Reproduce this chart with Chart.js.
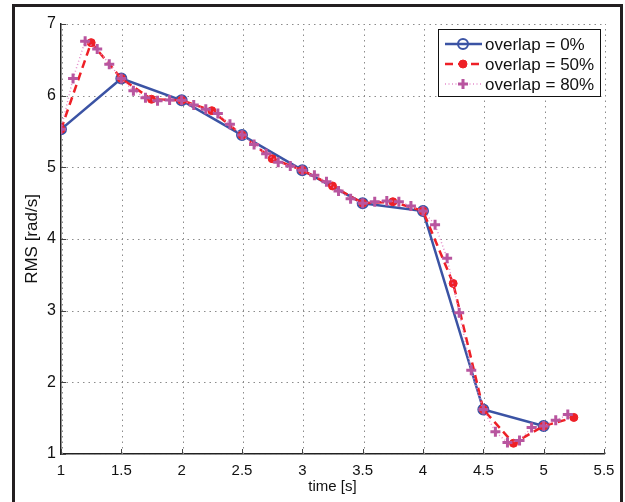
<!DOCTYPE html>
<html>
<head>
<meta charset="utf-8">
<script src="https://cdn.jsdelivr.net/npm/chart.js@4/dist/chart.umd.min.js"></script>
<style>
  html, body { margin: 0; padding: 0; background: #fff; }
  #wrap { width: 625px; height: 502px; }
</style>
</head>
<body>
<div id="wrap"><canvas id="rms-chart" width="625" height="502"></canvas></div>
<script>
// Data
const time0 = [1, 1.5, 2, 2.5, 3, 3.5, 4, 4.5, 5];
const rms0 = [5.53, 6.24, 5.935, 5.45, 4.96, 4.50, 4.39, 1.62, 1.39];

const time50 = [1, 1.25, 1.5, 1.75, 2, 2.25, 2.5, 2.75, 3, 3.25, 3.5, 3.75, 4, 4.25, 4.5, 4.75, 5, 5.25];
const rms50 = [5.53, 6.74, 6.24, 5.95, 5.935, 5.79, 5.45, 5.12, 4.96, 4.74, 4.50, 4.52, 4.39, 3.38, 1.62, 1.15, 1.39, 1.51];

const time80 = [1, 1.1, 1.2, 1.3, 1.4, 1.5, 1.6, 1.7, 1.8, 1.9, 2, 2.1, 2.2, 2.3, 2.4, 2.5,
  2.6, 2.7, 2.8, 2.9, 3, 3.1, 3.2, 3.3, 3.4, 3.5, 3.6, 3.7, 3.8, 3.9, 4, 4.1, 4.2, 4.3,
  4.4, 4.5, 4.6, 4.7, 4.8, 4.9, 5, 5.1, 5.2];
const rms80 = [5.53, 6.24, 6.76, 6.65, 6.44, 6.24, 6.07, 5.97, 5.93, 5.94, 5.935, 5.87, 5.81, 5.75, 5.60, 5.45,
  5.32, 5.19, 5.07, 5.02, 4.96, 4.89, 4.80, 4.67, 4.56, 4.50, 4.52, 4.53, 4.52, 4.46, 4.39, 4.20, 3.73, 2.97,
  2.17, 1.62, 1.31, 1.16, 1.19, 1.37, 1.39, 1.47, 1.55];

const seriesLabels = ['overlap = 0%', 'overlap = 50%', 'overlap = 80%'];
const xTicks = [1, 1.5, 2, 2.5, 3, 3.5, 4, 4.5, 5, 5.5];
const yTicks = [1, 2, 3, 4, 5, 6, 7];

const FONT = '"Liberation Sans", Arial, Helvetica, sans-serif';

function toPoints(xs, ys) {
    return xs.map((x, i) => ({ x: x, y: ys[i] }));
}

// Dotted grid, inward ticks, the outer frame and a MATLAB style legend
const figurePlugin = {
    id: 'figure',
    beforeDraw(chart) {
        const ctx = chart.ctx;
        ctx.save();
        ctx.fillStyle = '#fff';
        ctx.fillRect(0, 0, chart.width, chart.height);
        ctx.restore();
    },
    beforeDatasetsDraw(chart) {
        const ctx = chart.ctx;
        const area = chart.chartArea;
        const xs = chart.scales.x;
        const ys = chart.scales.y;
        ctx.save();
        ctx.strokeStyle = '#8c8c8c';
        ctx.lineWidth = 1;
        ctx.setLineDash([1.5, 4]);
        ctx.beginPath();
        xTicks.forEach(v => {
            const px = Math.round(xs.getPixelForValue(v)) + 1.5;
            ctx.moveTo(px, area.bottom);
            ctx.lineTo(px, area.top);
        });
        yTicks.forEach(v => {
            const py = Math.round(ys.getPixelForValue(v)) + 0.5;
            ctx.moveTo(area.left, py);
            ctx.lineTo(area.right + 1, py);
        });
        ctx.stroke();
        ctx.restore();
    },
    afterDraw(chart) {
        const ctx = chart.ctx;
        const area = chart.chartArea;
        const xs = chart.scales.x;
        const ys = chart.scales.y;

        ctx.save();
        ctx.strokeStyle = '#444';
        ctx.lineWidth = 1;
        ctx.beginPath();
        xTicks.forEach(v => {
            const px = Math.round(xs.getPixelForValue(v)) + 0.5;
            ctx.moveTo(px, area.bottom);
            ctx.lineTo(px, area.bottom - 5);
        });
        yTicks.forEach(v => {
            const py = Math.round(ys.getPixelForValue(v)) + 0.5;
            ctx.moveTo(area.left, py);
            ctx.lineTo(area.left + 5, py);
        });
        ctx.stroke();

        // outer frame
        ctx.strokeStyle = '#231f20';
        ctx.lineWidth = 3;
        ctx.beginPath();
        ctx.moveTo(13.5, 520);
        ctx.lineTo(13.5, 5.5);
        ctx.lineTo(621.5, 5.5);
        ctx.lineTo(621.5, 520);
        ctx.stroke();

        // legend
        const lx = 438, ly = 29, lw = 162, lh = 67;
        ctx.fillStyle = '#fff';
        ctx.fillRect(lx, ly, lw, lh);
        ctx.strokeStyle = '#111';
        ctx.lineWidth = 1;
        ctx.strokeRect(lx + 0.5, ly + 0.5, lw, lh);

        chart.data.datasets.forEach((ds, i) => {
            const cy = 44 + i * 20;
            ctx.save();
            ctx.strokeStyle = ds.borderColor;
            ctx.lineWidth = ds.borderWidth;
            ctx.setLineDash(ds.borderDash || []);
            ctx.beginPath();
            ctx.moveTo(445, cy);
            ctx.lineTo(482, cy);
            ctx.stroke();
            ctx.setLineDash([]);
            const mx = 463;
            ctx.strokeStyle = ds.pointBorderColor;
            ctx.fillStyle = ds.pointBackgroundColor;
            ctx.lineWidth = ds.pointBorderWidth;
            if (ds.pointStyle === 'circle') {
                ctx.beginPath();
                ctx.arc(mx, cy, ds.pointRadius, 0, Math.PI * 2);
                ctx.fill();
                ctx.stroke();
            } else {
                const r = ds.pointRadius;
                ctx.beginPath();
                ctx.moveTo(mx - r, cy);
                ctx.lineTo(mx + r, cy);
                ctx.moveTo(mx, cy - r);
                ctx.lineTo(mx, cy + r);
                ctx.stroke();
            }
            ctx.restore();
            ctx.fillStyle = '#111';
            ctx.font = '17px ' + FONT;
            ctx.textBaseline = 'middle';
            ctx.textAlign = 'left';
            ctx.fillText(ds.label, 485, cy + 1);
        });
        ctx.restore();
    }
};

const ctx = document.getElementById('rms-chart').getContext('2d');
const rmsChart = new Chart(ctx, {
    type: 'line',
    data: {
        datasets: [
            {
                label: seriesLabels[0],
                data: toPoints(time0, rms0),
                borderColor: '#3b53a4',
                borderWidth: 2.5,
                pointStyle: 'circle',
                pointRadius: 5,
                pointBorderWidth: 2,
                pointBorderColor: '#3b53a4',
                pointBackgroundColor: 'rgba(255,255,255,0)',
                order: 3
            },
            {
                label: seriesLabels[1],
                data: toPoints(time50, rms50),
                borderColor: '#ee2027',
                borderWidth: 2.5,
                borderDash: [8, 5],
                pointStyle: 'circle',
                pointRadius: 4,
                pointBorderWidth: 1,
                pointBorderColor: '#ee2027',
                pointBackgroundColor: '#ee2027',
                order: 2
            },
            {
                label: seriesLabels[2],
                data: toPoints(time80, rms80),
                borderColor: '#e58ccb',
                borderWidth: 1.5,
                borderDash: [1, 2.5],
                pointStyle: 'cross',
                pointRadius: 5,
                pointBorderWidth: 3,
                pointBorderColor: '#b8559f',
                pointBackgroundColor: '#b8559f',
                order: 1
            }
        ]
    },
    options: {
        responsive: false,
        animation: false,
        layout: { padding: { left: 22, top: 24, right: 21, bottom: 0 } },
        plugins: {
            legend: { display: false },
            tooltip: { enabled: false }
        },
        elements: { line: { tension: 0, fill: false } },
        scales: {
            x: {
                type: 'linear',
                min: 1,
                max: 5.5,
                afterFit: scale => { scale.height = 48; },
                afterBuildTicks: scale => { scale.ticks = xTicks.map(v => ({ value: v })); },
                ticks: {
                    callback: v => String(v),
                    font: { family: FONT, size: 15 },
                    color: '#111',
                    padding: 8,
                    maxRotation: 0
                },
                grid: { color: 'rgba(0,0,0,0)', drawTicks: false },
                border: { display: true, color: '#222', width: 1.5 },
                title: {
                    display: true,
                    text: 'time [s]',
                    font: { family: FONT, size: 15 },
                    color: '#111',
                    padding: { top: 0, bottom: 6 }
                }
            },
            y: {
                min: 1,
                max: 7,
                afterFit: scale => { scale.width = 39; },
                afterBuildTicks: scale => { scale.ticks = yTicks.map(v => ({ value: v })); },
                ticks: {
                    callback: v => String(v),
                    font: { family: FONT, size: 16 },
                    color: '#111',
                    padding: 5
                },
                grid: { color: 'rgba(0,0,0,0)', drawTicks: false },
                border: { display: true, color: '#222', width: 1.5 },
                title: {
                    display: true,
                    text: 'RMS [rad/s]',
                    font: { family: FONT, size: 17 },
                    color: '#111',
                    padding: { top: 0, bottom: 0 }
                }
            }
        }
    },
    plugins: [figurePlugin]
});
</script>
</body>
</html>
